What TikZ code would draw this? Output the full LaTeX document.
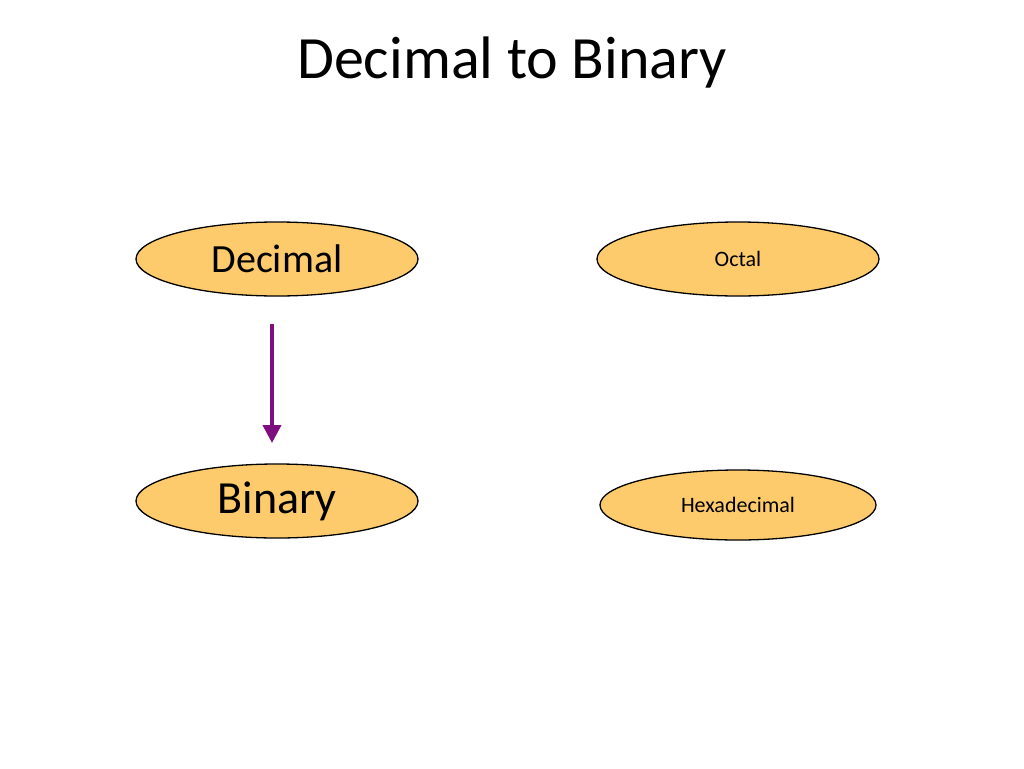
\documentclass[tikz,border=0pt]{standalone}
\usepackage{fontspec}
\setmainfont{Carlito}
\usetikzlibrary{shapes.geometric,arrows.meta}
\definecolor{fillc}{HTML}{FDCB6B}
\definecolor{arrc}{HTML}{7F0F7F}
\tikzset{
 oval/.style={ellipse,draw=black,line width=1.3pt,fill=fillc,inner sep=0pt,minimum width=282pt,minimum height=74pt},
 conn/.style={draw=arrc,line width=4pt,-{Triangle[length=18pt,width=18pt]}}
}
\begin{document}
\begin{tikzpicture}[x=1pt,y=-1pt]
\useasboundingbox (0,0) rectangle (1024,768);
\node (title) at (512,63) {\fontsize{60}{60}\selectfont Decimal to Binary};
\node[oval] (dec) at (277,259) {\fontsize{40}{40}\selectfont Decimal};
\node[oval] (oct) at (738,259) {\fontsize{22}{22}\selectfont Octal};
\node[oval] (bin) at (277,501) {\fontsize{46}{46}\selectfont Binary};
\node[oval,minimum width=276pt,minimum height=70pt] (hex) at (738,505) {\fontsize{22}{22}\selectfont Hexadecimal};
\coordinate (as) at (272,324);
\coordinate (ae) at (272,443);
\draw[conn] (as) -- (ae);
\end{tikzpicture}
\end{document}
